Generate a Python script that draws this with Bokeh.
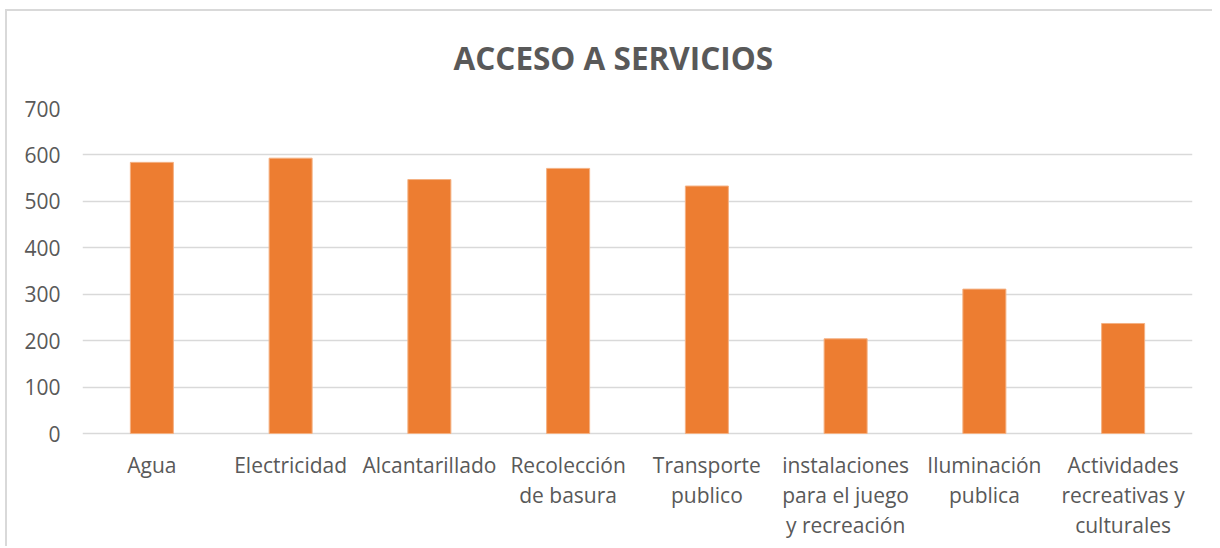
from bokeh.plotting import figure
from bokeh.models import ColumnDataSource, FixedTicker
from bokeh.core.properties import value
from bokeh.embed import file_html
from bokeh.resources import INLINE

categories = ["Agua", "Electricidad", "Alcantarillado", "Recolección de basura",
              "Transporte publico", "instalaciones para el juego y recreación",
              "Iluminación publica", "Actividades recreativas y culturales"]
values = [584, 593, 547, 571, 533, 204, 311, 237]
label_lines = ["Agua", "Electricidad", "Alcantarillado", "Recolección\nde basura",
               "Transporte\npublico", "instalaciones\npara el juego\ny recreación",
               "Iluminación\npublica", "Actividades\nrecreativas y\nculturales"]
y_ticks = [0, 100, 200, 300, 400, 500, 600, 700]

FONT = "Open Sans"
GREY = "#595959"
LINE = "#D9D9D9"

src = ColumnDataSource(dict(cat=categories, val=values, lab=label_lines,
                            base=[0] * len(categories)))

p = figure(x_range=categories, y_range=(-239, 700), width=1212, height=546,
           output_backend="svg", toolbar_location=None,
           min_border_left=82, min_border_right=20, min_border_top=108,
           min_border_bottom=2)
p.border_fill_color = None
p.background_fill_color = None

p.vbar(x="cat", top="val", width=0.31, source=src, color="#ED7D31",
       line_color="#F4B183", line_width=1)

p.text(x="cat", y="base", text="lab", source=src, text_align="center",
       text_baseline="top", y_offset=17, text_font=value(FONT),
       text_font_size="21px", text_color=GREY, text_line_height=1.08)

p.title.text = "ACCESO A SERVICIOS"
p.title.align = "left"
p.title.offset = 371
p.title.text_font = FONT
p.title.text_font_size = "31.5px"
p.title.text_font_style = "bold"
p.title.text_color = GREY
p.title.standoff = 59

p.outline_line_color = None
p.xgrid.grid_line_color = None
p.ygrid.grid_line_color = LINE
p.ygrid.grid_line_width = 1.5
p.yaxis.ticker = FixedTicker(ticks=y_ticks)

p.yaxis.axis_line_color = None
p.yaxis.major_tick_line_color = None
p.yaxis.minor_tick_line_color = None
p.yaxis.major_label_standoff = 16
p.yaxis.major_label_text_font = FONT
p.yaxis.major_label_text_font_size = "21px"
p.yaxis.major_label_text_color = GREY

p.xaxis.visible = False

p.styles = {
    "background-color": "white",
    "background-image": f"linear-gradient({LINE},{LINE}), linear-gradient({LINE},{LINE})",
    "background-size": "100% 2px, 2px 100%",
    "background-position": "5px 9px, 5px 9px",
    "background-repeat": "no-repeat",
}

open("out.html", "w").write(file_html(p, INLINE))
